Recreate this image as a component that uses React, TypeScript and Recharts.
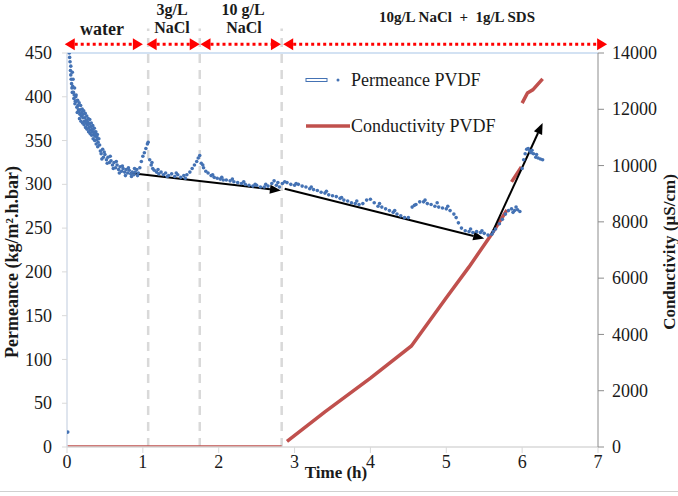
import { ComposedChart, Line, Scatter, XAxis, YAxis, ReferenceLine } from "recharts";

const timeTicks = [0, 1, 2, 3, 4, 5, 6, 7];
const permeanceTicks = [0, 50, 100, 150, 200, 250, 300, 350, 400, 450];
const conductivityTicks = [0, 2000, 4000, 6000, 8000, 10000, 12000, 14000];

// permeance readings (h, kg/m2.h.bar)
const permeanceTime = [
	0.01, 0.03, 0.04, 0.05, 0.05, 0.06, 0.07, 0.07, 0.08, 0.09, 0.1, 0.11, 0.12, 0.13, 0.14, 0.15, 0.16, 0.17, 0.18, 0.19,
	0.2, 0.21, 0.22, 0.23, 0.24, 0.25, 0.26, 0.27, 0.28, 0.29, 0.3, 0.31, 0.32, 0.33, 0.34, 0.35, 0.36, 0.37, 0.38, 0.39,
	0.4, 0.41, 0.42, 0.43, 0.44, 0.45, 0.47, 0.48, 0.5, 0.52, 0.54, 0.56, 0.58, 0.6, 0.62, 0.64, 0.66, 0.68, 0.7, 0.72,
	0.74, 0.76, 0.78, 0.8, 0.82, 0.84, 0.86, 0.88, 0.9, 0.92, 0.94, 0.96, 0.98, 1.0, 1.02, 1.04, 1.06, 1.07, 1.09, 1.11,
	1.13, 1.15, 1.18, 1.21, 1.24, 1.27, 1.3, 1.34, 1.38, 1.42, 1.46, 1.5, 1.54, 1.58, 1.62, 1.65, 1.68, 1.71, 1.73, 1.75,
	1.77, 1.8, 1.83, 1.86, 1.9, 1.94, 1.98, 2.02, 2.06, 2.1, 2.15, 2.2, 2.25, 2.3, 2.35, 2.4, 2.45, 2.5, 2.55, 2.6,
	2.65, 2.7, 2.73, 2.76, 2.8, 2.84, 2.87, 2.9, 2.95, 3.0, 3.05, 3.1, 3.15, 3.2, 3.25, 3.3, 3.35, 3.4, 3.45, 3.5,
	3.55, 3.6, 3.65, 3.7, 3.75, 3.8, 3.85, 3.9, 3.95, 4.0, 4.05, 4.1, 4.15, 4.2, 4.25, 4.3, 4.35, 4.4, 4.45, 4.5,
	4.55, 4.6, 4.65, 4.7, 4.75, 4.8, 4.85, 4.9, 4.95, 5.0, 5.05, 5.1, 5.13, 5.16, 5.2, 5.25, 5.3, 5.35, 5.4, 5.45,
	5.5, 5.55, 5.6, 5.65, 5.7, 5.74, 5.78, 5.82, 5.86, 5.9, 5.94, 5.97, 6.0, 6.02, 6.04, 6.06, 6.08, 6.1, 6.12, 6.15,
	6.18, 6.21, 6.24, 6.27,
	// second pass over the noisy start of the run
	0.035, 0.045, 0.055, 0.065, 0.075, 0.085, 0.095, 0.105, 0.115, 0.125, 0.135, 0.145, 0.155, 0.165, 0.175, 0.185, 0.195,
	0.205, 0.215, 0.225, 0.235, 0.245, 0.255, 0.265, 0.275, 0.285, 0.295, 0.305, 0.315, 0.325, 0.335, 0.345, 0.355, 0.365,
	0.375, 0.385, 0.395, 0.405, 0.46, 0.49, 0.53, 0.57, 0.61, 0.65, 0.69, 0.73, 0.77, 0.81, 0.85, 0.89, 0.93,
	1.12, 1.2, 1.32, 1.44, 1.56, 1.79, 1.92, 2.04, 2.18, 2.33, 2.48, 2.62, 2.78, 3.02, 3.22, 3.42, 3.62, 3.82,
	4.12, 4.32, 4.58, 4.72, 4.88, 5.02, 5.32, 5.47, 5.62, 5.88, 5.92, 6.13, 6.19,
];
const permeanceValue = [
	17, 450, 440, 425, 435, 415, 428, 405, 420, 398, 410, 395, 402, 388, 396, 385, 393, 380, 390, 378,
	386, 376, 384, 372, 381, 370, 378, 368, 375, 365, 374, 362, 370, 360, 367, 357, 364, 355, 360, 351,
	357, 348, 352, 345, 338, 335, 340, 331, 334, 328, 331, 325, 327, 322, 325, 319, 322, 317, 320, 315,
	318, 314, 317, 313, 316, 312, 314, 311, 314, 317, 313, 319, 326, 332, 336, 341, 346, 348, 328, 322,
	318, 316, 314, 312, 314, 311, 313, 310, 312, 309, 311, 308, 310, 311, 314, 318, 322, 326, 330, 333,
	324, 319, 315, 313, 310, 308, 307, 306, 305, 305, 304, 303, 302, 301, 300, 299, 298, 299, 297, 297,
	298, 301, 304, 299, 297, 301, 303, 302, 300, 299, 300, 298, 297, 295, 294, 293, 291, 290, 288, 287,
	286, 284, 282, 281, 279, 278, 277, 278, 282, 283, 279, 275, 274, 272, 270, 268, 266, 264, 262, 262,
	274, 277, 280, 280, 278, 277, 275, 274, 273, 272, 270, 266, 262, 256, 250, 247, 246, 245, 246, 245,
	244, 242, 243, 249, 255, 260, 266, 270, 272, 270, 271, 269, 318, 328, 335, 340, 341, 338, 336, 335,
	331, 330, 329, 328,
	445, 430, 420, 410, 412, 405, 402, 392, 400, 395, 382, 390, 383, 375, 385, 372, 382,
	370, 380, 368, 376, 365, 373, 363, 371, 360, 369, 358, 366, 356, 363, 352, 360, 350,
	357, 346, 354, 343, 329, 337, 324, 332, 318, 326, 313, 321, 310, 319, 309, 318, 310,
	325, 317, 309, 313, 307, 322, 311, 308, 306, 303, 300, 300, 302, 301, 297, 292, 285, 281,
	278, 270, 276, 282, 279, 275, 249, 247, 246, 268, 274, 339, 334,
];

// conductivity readings (h, µS/cm), null = gap in the record
const conductivityTime = [0, 2.83, 2.86, 2.9, 3.4, 4.0, 4.54, 5.0, 5.3, 5.59, 5.8, 5.83, 5.86, 5.99, 6.0, 6.0, 6.07, 6.14, 6.27];
const conductivityValue = [0, 0, null, 200, 1250, 2450, 3590, 5300, 6400, 7530, 8420, null, 9420, 9950, null, 12220, 12580, 12690, 13080];

// phase boundaries (h)
const phaseLines = [1.07, 1.75, 2.83];
const phaseArrows = [
	[-0.03, 1.0],
	[1.05, 1.75],
	[1.76, 2.82],
	[2.85, 7.12],
];
// trend arrows [t0, p0, t1, p1]
const trendArrows = [
	[0.83, 313, 2.82, 293],
	[2.87, 295, 5.5, 238],
	[5.59, 242, 6.27, 370],
];

const serif = "'Liberation Serif', 'Times New Roman', serif";

const permeanceData = permeanceTime.map((t, i) => ({ t, p: permeanceValue[i] }));
const conductivityData = conductivityTime.map((t, i) => ({ t, c: conductivityValue[i] }));

function tick(anchor: "start" | "middle" | "end", dy: string) {
	return (props: any) => (
		<text
			x={props.x}
			y={props.y}
			dy={dy}
			textAnchor={anchor}
			fontFamily={serif}
			fontSize={18}
			fill="#1a1a1a"
		>
			{props.payload.value}
		</text>
	);
}

function arrow(color: string, width: number, dash: string | undefined, both: boolean, len: number, half: number) {
	return (props: any) => {
		const { x1, y1, x2, y2 } = props;
		if (x1 == null || x2 == null) return <g />;
		const dx = x2 - x1;
		const dy = y2 - y1;
		const d = Math.hypot(dx, dy) || 1;
		const ux = dx / d;
		const uy = dy / d;
		const head = (tx: number, ty: number, sx: number, sy: number) => {
			const bx = tx - sx * len;
			const by = ty - sy * len;
			return `${tx},${ty} ${bx - sy * half},${by + sx * half} ${bx + sy * half},${by - sx * half}`;
		};
		const sx = both ? x1 + ux * len : x1;
		const sy = both ? y1 + uy * len : y1;
		return (
			<g>
				<line x1={sx} y1={sy} x2={x2 - ux * len} y2={y2 - uy * len} stroke={color} strokeWidth={width} strokeDasharray={dash} />
				<polygon points={head(x2, y2, ux, uy)} fill={color} />
				{both && <polygon points={head(x1, y1, -ux, -uy)} fill={color} />}
			</g>
		);
	};
}

const dot = (props: any) => <circle cx={props.cx} cy={props.cy} r={1.8} fill="#4472b4" />;

const label = (x: number, y: number, size: number, bold: boolean, extra?: any): any => ({
	position: "absolute",
	left: x,
	top: y,
	transform: "translate(-50%, -50%)",
	fontFamily: serif,
	fontSize: size,
	fontWeight: bold ? 700 : 400,
	color: "#1a1a1a",
	whiteSpace: "pre",
	lineHeight: 1,
	...extra,
});

export default function App() {
	return (
		<div
			style={{
				position: "absolute",
				left: 0,
				top: 0,
				width: 678,
				height: 496,
				background: "#fff",
				overflow: "hidden",
				fontFamily: serif,
			}}
		>
			<ComposedChart width={678} height={496} margin={{ top: 53, right: 20, bottom: 19, left: 12 }}>
				<XAxis
					type="number"
					dataKey="t"
					domain={[0, 7]}
					ticks={timeTicks}
					allowDataOverflow
					height={30}
					tickSize={6}
					tickMargin={0}
					tick={tick("middle", "0.85em")}
					axisLine={{ stroke: "#d9d9d9", strokeWidth: 1.5 }}
					tickLine={{ stroke: "#d9d9d9" }}
				/>
				<YAxis
					yAxisId="left"
					dataKey="p"
					type="number"
					domain={[0, 450]}
					ticks={permeanceTicks}
					allowDataOverflow
					width={55}
					tickSize={5}
					tickMargin={10}
					tick={tick("end", "0.34em")}
					axisLine={{ stroke: "#d5dce8", strokeWidth: 1.5 }}
					tickLine={{ stroke: "#d9d9d9" }}
				/>
				<YAxis
					yAxisId="right"
					orientation="right"
					type="number"
					domain={[0, 14000]}
					ticks={conductivityTicks}
					allowDataOverflow
					width={60}
					tickSize={6}
					tickMargin={8}
					tick={tick("start", "0.34em")}
					axisLine={{ stroke: "#8c8c8c" }}
					tickLine={{ stroke: "#8c8c8c" }}
				/>
				<ReferenceLine yAxisId="left" y={450} stroke="#c5d9ef" strokeWidth={1.5} />
				{phaseLines.map((h) => (
					<ReferenceLine
						key={`ph-${h}`}
						yAxisId="left"
						segment={[{ x: h, y: 0 }, { x: h, y: 478 }]}
						ifOverflow="visible"
						stroke="#d9d9d9"
						strokeWidth={2.5}
						strokeDasharray="9 7"
					/>
				))}
				<Scatter yAxisId="left" data={permeanceData} dataKey="p" shape={dot} isAnimationActive={false} />
				<Line
					yAxisId="right"
					data={conductivityData}
					dataKey="c"
					type="linear"
					stroke="#c0504d"
					strokeWidth={3.5}
					dot={false}
					activeDot={false}
					connectNulls={false}
					isAnimationActive={false}
				/>
				{trendArrows.map(([t0, p0, t1, p1], i) => (
					<ReferenceLine
						key={`tr-${i}`}
						yAxisId="left"
						segment={[{ x: t0, y: p0 }, { x: t1, y: p1 }]}
						ifOverflow="visible"
						shape={arrow("#000", 2, undefined, false, 11, 4.5)}
					/>
				))}
				{phaseArrows.map(([a, b], i) => (
					<ReferenceLine
						key={`pa-${i}`}
						yAxisId="left"
						segment={[{ x: a, y: 460 }, { x: b, y: 460 }]}
						ifOverflow="visible"
						shape={arrow("#ff0000", 3, "3 3", true, 10, 6)}
					/>
				))}
			</ComposedChart>

			<div style={label(102, 29, 18, true)}>water</div>
			<div style={label(172, 10, 16, true)}>3g/L</div>
			<div style={label(172, 28, 16, true)}>NaCl</div>
			<div style={label(243, 10, 16, true)}>10 g/L</div>
			<div style={label(244, 28, 16, true)}>NaCl</div>
			<div style={label(457, 17, 15, true)}>{"10g/L NaCl  +  1g/L SDS"}</div>

			<div style={label(12, 262, 18, true, { transform: "translate(-50%, -50%) rotate(-90deg)" })}>Permeance (kg/m².h.bar)</div>
			<div style={label(669, 252, 17, true, { transform: "translate(-50%, -50%) rotate(-90deg)" })}>Conductivity (µS/cm)</div>
			<div style={label(336, 472, 17, true)}>Time (h)</div>

			<svg style={{ position: "absolute", left: 300, top: 70 }} width={50} height={66}>
				<rect x={6} y={8.5} width={21} height={3} fill="none" stroke="#4472b4" strokeWidth={1} />
				<circle cx={38} cy={10} r={1.5} fill="#4472b4" />
				<line x1={6} y1={56} x2={50} y2={56} stroke="#c0504d" strokeWidth={3.5} />
			</svg>
			<div style={{ ...label(351, 80, 18, false), transform: "translate(0, -50%)" }}>Permeance PVDF</div>
			<div style={{ ...label(351, 126, 18, false), transform: "translate(0, -50%)" }}>Conductivity PVDF</div>

			<div style={{ position: "absolute", left: 0, top: 491, width: 678, height: 1, background: "#d0d0d0" }} />
		</div>
	);
}
